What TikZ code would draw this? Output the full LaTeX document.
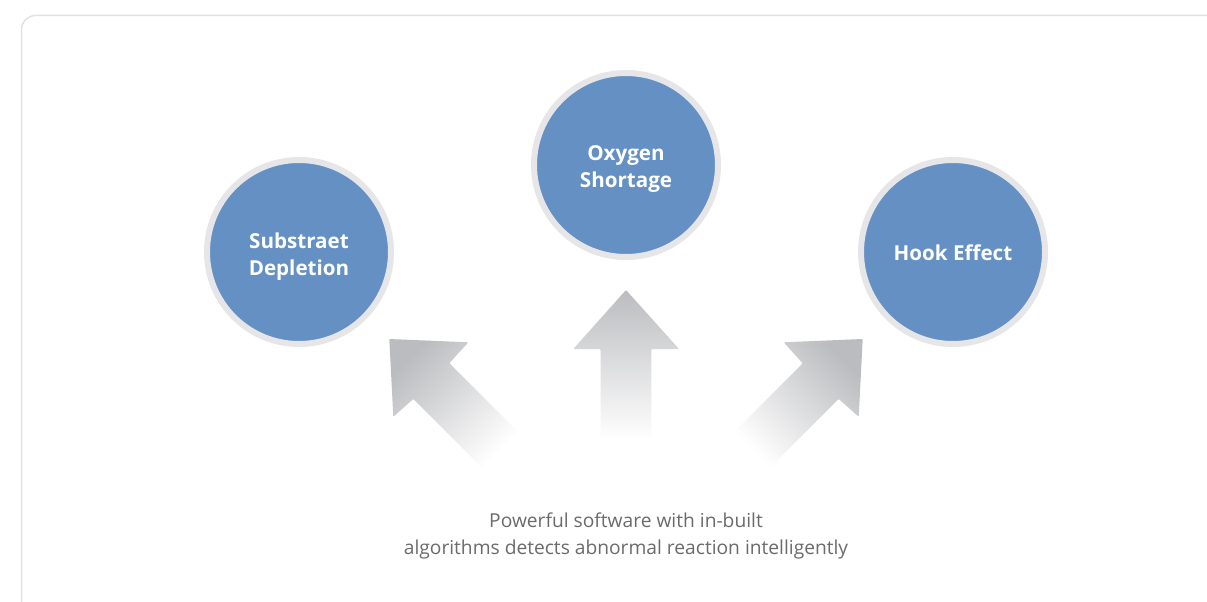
\documentclass[tikz,border=0pt]{standalone}
\usepackage{fontspec}
\setmainfont{Open Sans}
\definecolor{circblue}{HTML}{6490C3}
\definecolor{ringgray}{HTML}{E6E6E8}
\definecolor{arrgray}{HTML}{BBBCBF}
\definecolor{framegray}{HTML}{E2E2E2}
\definecolor{txtgray}{HTML}{6B6B6B}
\begin{document}
\begin{tikzpicture}[x=1pt,y=-1pt,
  bubble/.style={circle, fill=circblue, draw=ringgray, line width=6pt,
    minimum size=184pt, inner sep=0pt, text=white,
    font=\bfseries\fontsize{20.6}{27}\selectfont, align=center},
  arrowshape/.style={shading=axis, top color=arrgray, middle color=arrgray!80, bottom color=white},
  caption/.style={text=txtgray, font=\fontsize{19.2}{27}\selectfont, align=center}]
\useasboundingbox (0,0) rectangle (1207,602);
\fill[white] (0,0) rectangle (1207,602);
% frame
\draw[framegray, line width=1.5pt, rounded corners=14pt] (21.5,15.5) rectangle (1240,640);
% bubbles
\node[bubble] (sub) at (299,252) {};
\node[bubble] (oxy) at (626,165) {};
\node[bubble] (hook) at (953,252) {};
\node[text=white, font=\bfseries\fontsize{20.6}{27}\selectfont, align=center] (subt) at (299,256.5) {Substraet\\Depletion};
\node[text=white, font=\bfseries\fontsize{20.6}{27}\selectfont, align=center] (oxyt) at (626,169.5) {Oxygen\\Shortage};
\node[text=white, font=\bfseries\fontsize{20.6}{27}\selectfont, align=center] (hookt) at (953,253) {Hook Effect};
% arrows
\path[arrowshape, shading angle=45, rounded corners=1pt]
  (389.3,339) -- (468.3,342.3) -- (449.3,363.3) -- (519.3,433.3) -- (483.3,469)
  -- (413.3,399) -- (393.3,416.7) -- cycle;
\path[arrowshape, rounded corners=1pt]
  (626,290) -- (679,349) -- (651.3,349) -- (651.3,440) -- (600.7,440)
  -- (600.7,349) -- (573.3,349) -- cycle;
\path[arrowshape, shading angle=-45, rounded corners=1pt]
  (862.7,339) -- (783.7,342.3) -- (802.7,363.3) -- (732.7,433.3) -- (768.7,469)
  -- (838.7,399) -- (858.7,416.7) -- cycle;
% caption
\node[caption] (cap) at (626,536) {Powerful software with in-built\\algorithms detects abnormal reaction intelligently};
\end{tikzpicture}
\end{document}
